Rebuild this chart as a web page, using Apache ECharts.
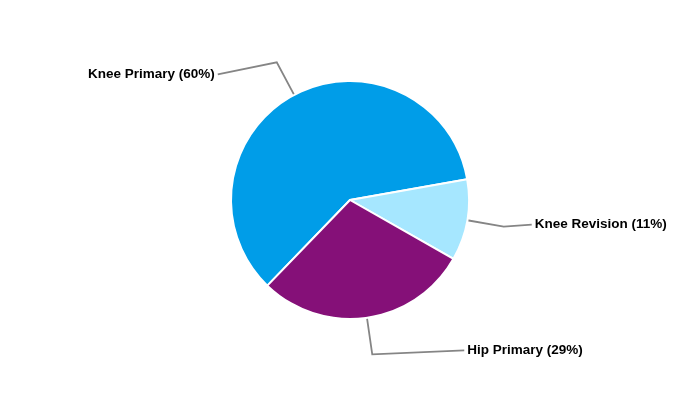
<!DOCTYPE html>
<html>
<head>
<meta charset="utf-8">
<script src="https://cdn.jsdelivr.net/npm/echarts@6/dist/echarts.min.js"></script>
<style>html,body{margin:0;padding:0;background:#fff}#c{width:700px;height:400px}</style>
</head>
<body>
<div id="c"></div>
<script>
const categories = ['Knee Primary', 'Knee Revision', 'Hip Primary'];
const values = [60, 11, 29];
const colors = ['#009de8', '#a6e7ff', '#851078'];
// label leader-line end offsets relative to elbow (styling)
const lineEndOffsets = [[-59, 12], [28, -2], [92, -4]];

const chart = echarts.init(document.getElementById('c'), null, {renderer: 'canvas'});
chart.setOption({
  animation: false,
  backgroundColor: '#fff',
  series: [{
    type: 'pie',
    center: [350, 200],
    radius: 119,
    startAngle: 226,
    clockwise: true,
    data: categories.map((c, i) => ({name: c, value: values[i], itemStyle: {color: colors[i]}})),
    itemStyle: {borderColor: '#fff', borderWidth: 2},
    label: {
      formatter: '{b} ({d}%)',
      color: '#000',
      fontSize: 13.5,
      fontWeight: 'bold',
      fontFamily: 'Arial, "Liberation Sans", sans-serif'
    },
    labelLine: {
      length: 37,
      length2: 30,
      smooth: false,
      lineStyle: {color: '#858585', width: 1.8}
    },
    labelLayout: function (params) {
      const p = params.labelLinePoints;
      if (!p) return {};
      const off = lineEndOffsets[params.dataIndex];
      const end = [p[1][0] + off[0], p[1][1] + off[1]];
      const left = off[0] < 0;
      return {
        x: left ? end[0] - 3 : end[0] + 3,
        y: end[1],
        align: left ? 'right' : 'left',
        verticalAlign: 'middle',
        labelLinePoints: [p[0], p[1], end]
      };
    }
  }]
});
</script>
</body>
</html>
